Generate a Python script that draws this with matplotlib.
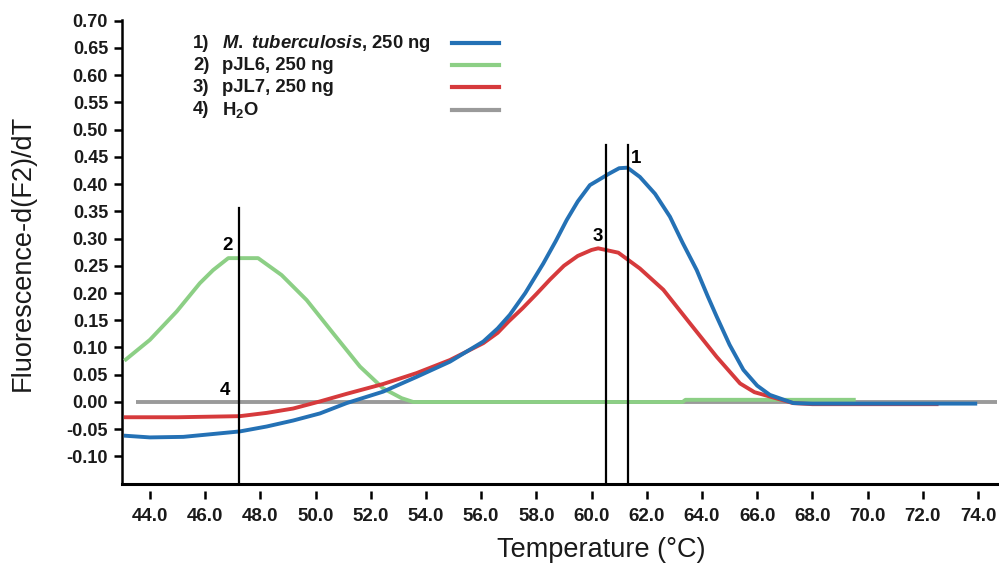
import matplotlib
matplotlib.use("Agg")
import matplotlib.pyplot as plt
from matplotlib.lines import Line2D

# =========================
# DATA
# =========================

green_t = [43.13, 44.0, 44.97, 45.81, 46.29, 46.84, 47.92, 48.77, 49.68,
           50.64, 51.61, 52.45, 53.12, 53.54, 63.3, 63.4, 69.5]
green_v = [0.078, 0.114, 0.166, 0.218, 0.242, 0.264, 0.264, 0.233, 0.187,
           0.126, 0.065, 0.025, 0.007, 0.0, 0.0, 0.004, 0.004]

red_t = [43.13, 45.0, 47.26, 48.23, 49.19, 50.16, 51.13, 52.45, 53.66,
         54.87, 56.08, 56.6, 57.0, 57.5, 58.0, 58.5, 59.0, 59.5, 60.0,
         60.24, 60.97, 61.75, 62.6, 63.57, 64.53, 65.38, 65.9, 66.46,
         67.3, 68.0, 72.5]
red_v = [-0.028, -0.028, -0.026, -0.020, -0.012, 0.001, 0.015, 0.033, 0.053,
         0.077, 0.108, 0.127, 0.148, 0.172, 0.198, 0.225, 0.250, 0.268, 0.279,
         0.282, 0.274, 0.245, 0.206, 0.144, 0.083, 0.034, 0.018, 0.010,
         -0.002, -0.004, -0.004]

blue_t = [43.13, 44.0, 45.21, 47.26, 48.23, 49.19, 50.16, 51.13, 52.45,
          53.66, 54.87, 56.08, 56.6, 57.04, 57.6, 58.25, 58.7, 59.1, 59.5,
          59.94, 60.24, 60.6, 61.0, 61.3, 61.75, 62.3, 62.84, 63.3, 63.81,
          64.2, 64.53, 65.0, 65.5, 66.0, 66.46, 67.31, 68.0, 73.9]
blue_v = [-0.062, -0.065, -0.064, -0.054, -0.045, -0.034, -0.021, -0.002, 0.019,
          0.046, 0.074, 0.111, 0.135, 0.160, 0.200, 0.254, 0.295, 0.334, 0.368,
          0.398, 0.407, 0.418, 0.429, 0.430, 0.413, 0.382, 0.340, 0.292, 0.242,
          0.195, 0.157, 0.105, 0.059, 0.030, 0.013, -0.002, -0.003, -0.003]

gray_t = [43.5, 74.7]
gray_v = [0.0, 0.0]

# melting peaks (vertical markers)
peak_t = [61.33, 47.24, 60.51]
peak_top = [0.472, 0.356, 0.472]

legend_num = ["1)", "2)", "3)", "4)"]
legend_txt = [r"$\mathit{M.\ tuberculosis}$, 250 ng", "pJL6, 250 ng",
              "pJL7, 250 ng", r"H$_2$O"]

x_ticks = [44 + 2 * i for i in range(16)]
y_ticks = [-0.10 + 0.05 * i for i in range(17)]

# =========================
# STYLE
# =========================

plt.rcParams["font.family"] = ["Liberation Sans", "DejaVu Sans"]
plt.rcParams["mathtext.fontset"] = "custom"
plt.rcParams["mathtext.rm"] = "Liberation Sans:bold"
plt.rcParams["mathtext.it"] = "Liberation Sans:bold:italic"
plt.rcParams["mathtext.bf"] = "Liberation Sans:bold"

BLUE = "#2471b5"
GREEN = "#8ccf85"
RED = "#d63a3c"
GRAY = "#9a9a9a"
colors = [BLUE, GREEN, RED, GRAY]

W, H = 999, 568
fig = plt.figure(figsize=(W / 100, H / 100), dpi=100)

ax_l, ax_r, ax_b, ax_t = 122, 999, 484, 20
ax = fig.add_axes([ax_l / W, 1 - ax_b / H, (ax_r - ax_l) / W, (ax_b - ax_t) / H])

ymin, ymax = -0.1505, 0.701
ax.set_xlim(42.99, 74.76)
ax.set_ylim(ymin, ymax)

# =========================
# CURVES
# =========================

lw = 2.8
ax.plot(gray_t, gray_v, color=GRAY, lw=lw, zorder=2, solid_capstyle="butt")
ax.plot(green_t, green_v, color=GREEN, lw=lw, zorder=3)
ax.plot(red_t, red_v, color=RED, lw=lw, zorder=4)
ax.plot(blue_t, blue_v, color=BLUE, lw=lw, zorder=5)

for t, top in zip(peak_t, peak_top):
    ax.plot([t, t], [ymin, top], color="black", lw=1.6, zorder=6,
            clip_on=False)

# peak labels
ax.text(61.63, 0.447, "1", fontsize=13.5, fontweight="bold",
        ha="center", va="center", zorder=7)
ax.text(46.83, 0.288, "2", fontsize=13.5, fontweight="bold",
        ha="center", va="center", zorder=7)
ax.text(60.24, 0.303, "3", fontsize=13.5, fontweight="bold",
        ha="center", va="center", zorder=7)
ax.text(46.72, 0.022, "4", fontsize=13.5, fontweight="bold",
        ha="center", va="center", zorder=7)

# =========================
# AXES
# =========================

ax.spines["top"].set_visible(False)
ax.spines["right"].set_visible(False)
ax.spines["left"].set_linewidth(1.8)
ax.spines["bottom"].set_position(("outward", 5))
ax.spines["bottom"].set_visible(False)
ax.axhline(ymin, color="black", lw=2.2, clip_on=False, zorder=8)

ax.set_xticks(x_ticks)
ax.set_xticklabels([f"{t:.1f}" for t in x_ticks])
ax.set_yticks(y_ticks)
ax.set_yticklabels([f"{v:.2f}" for v in y_ticks])

ax.tick_params(axis="x", direction="out", length=6, width=1.8,
               pad=6, labelsize=13.5)
ax.tick_params(axis="y", direction="out", length=6, width=1.8,
               pad=4, labelsize=13)
for lab in ax.get_xticklabels() + ax.get_yticklabels():
    lab.set_fontweight("bold")
    lab.set_color("#1a1a1a")

fig.text(23 / W, 1 - 253 / H, "Fluorescence-d(F2)/dT", rotation=90,
         fontsize=19.5, ha="center", va="center", color="#1a1a1a")
fig.text(601 / W, 1 - 550 / H, "Temperature (°C)",
         fontsize=19.5, ha="center", va="center", color="#1a1a1a")

# =========================
# LEGEND (hand placed)
# =========================

leg_y = [43, 65, 87, 110]
for num, txt, c, y in zip(legend_num, legend_txt, colors, leg_y):
    fig.text(193 / W, 1 - y / H, num, fontsize=13.3, fontweight="bold",
             ha="left", va="center", color="#1a1a1a")
    fig.text(222 / W, 1 - y / H, txt, fontsize=13.3, fontweight="bold",
             ha="left", va="center", color="#1a1a1a")
    fig.add_artist(Line2D([452 / W, 499 / W], [1 - y / H, 1 - y / H],
                          color=c, lw=3, transform=fig.transFigure))

fig.savefig("out.png", dpi=100)
